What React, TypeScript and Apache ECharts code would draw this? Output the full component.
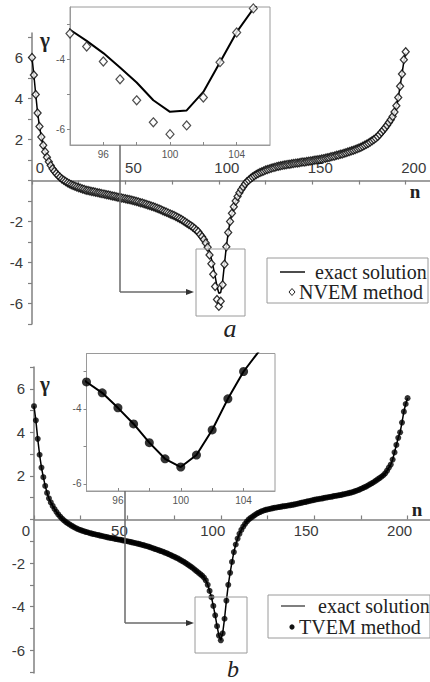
import React, { useEffect, useRef } from 'react';
import * as echarts from 'echarts';

// ---- data (n = 0..200) ----
const exactTop = [
  6.0, 5.15, 4.2, 3.3, 2.64, 2.12, 1.72, 1.4, 1.14, 0.92,
  0.74, 0.58, 0.45, 0.34, 0.25, 0.16, 0.08, 0.01, -0.05, -0.11,
  -0.16, -0.2, -0.24, -0.28, -0.32, -0.35, -0.38, -0.41, -0.44, -0.47,
  -0.49, -0.51, -0.53, -0.55, -0.57, -0.59, -0.61, -0.63, -0.65, -0.67,
  -0.69, -0.71, -0.73, -0.75, -0.77, -0.79, -0.81, -0.83, -0.85, -0.87,
  -0.89, -0.91, -0.93, -0.95, -0.97, -1.0, -1.02, -1.05, -1.08, -1.1,
  -1.13, -1.16, -1.19, -1.22, -1.25, -1.28, -1.32, -1.35, -1.39, -1.43,
  -1.47, -1.51, -1.55, -1.59, -1.63, -1.67, -1.71, -1.75, -1.8, -1.85,
  -1.9, -1.96, -2.02, -2.08, -2.14, -2.2, -2.27, -2.34, -2.42, -2.5,
  -2.6, -2.7, -2.82, -2.97, -3.15, -3.47, -3.82, -4.23, -4.66, -5.17,
  -5.5, -5.46, -4.93, -4.08, -3.22, -2.55, -2.0, -1.6, -1.28, -1.0,
  -0.78, -0.6, -0.44, -0.3, -0.17, -0.06, 0.02, 0.1, 0.17, 0.23,
  0.29, 0.34, 0.39, 0.43, 0.47, 0.51, 0.54, 0.57, 0.6, 0.63,
  0.65, 0.68, 0.7, 0.72, 0.74, 0.76, 0.77, 0.79, 0.8, 0.82,
  0.83, 0.85, 0.86, 0.87, 0.89, 0.9, 0.91, 0.93, 0.94, 0.96,
  0.97, 0.99, 1.0, 1.02, 1.03, 1.05, 1.07, 1.09, 1.11, 1.13,
  1.16, 1.18, 1.2, 1.23, 1.25, 1.28, 1.3, 1.33, 1.36, 1.39,
  1.42, 1.45, 1.48, 1.51, 1.55, 1.59, 1.63, 1.67, 1.72, 1.77,
  1.82, 1.88, 1.94, 2.0, 2.07, 2.15, 2.25, 2.36, 2.47, 2.58,
  2.7, 2.83, 2.97, 3.13, 3.35, 3.65, 4.05, 4.6, 5.2, 5.8,
  6.25,
];

const nvemTop = [
  6.0, 5.15, 4.2, 3.3, 2.64, 2.12, 1.72, 1.4, 1.14, 0.92,
  0.74, 0.58, 0.45, 0.34, 0.25, 0.16, 0.08, 0.01, -0.05, -0.11,
  -0.16, -0.2, -0.24, -0.28, -0.32, -0.35, -0.38, -0.41, -0.44, -0.47,
  -0.49, -0.51, -0.53, -0.55, -0.57, -0.59, -0.61, -0.63, -0.65, -0.67,
  -0.69, -0.71, -0.73, -0.75, -0.77, -0.79, -0.81, -0.83, -0.85, -0.87,
  -0.89, -0.91, -0.93, -0.95, -0.97, -1.0, -1.02, -1.05, -1.08, -1.1,
  -1.13, -1.16, -1.19, -1.22, -1.25, -1.28, -1.32, -1.35, -1.39, -1.43,
  -1.47, -1.51, -1.55, -1.59, -1.63, -1.67, -1.71, -1.75, -1.8, -1.85,
  -1.9, -1.96, -2.02, -2.08, -2.14, -2.2, -2.27, -2.34, -2.42, -2.5,
  -2.63, -2.74, -2.88, -3.05, -3.26, -3.63, -4.06, -4.57, -5.17, -5.8,
  -6.14, -5.89, -5.09, -4.08, -3.23, -2.54, -2.0, -1.6, -1.28, -1.0,
  -0.78, -0.6, -0.44, -0.3, -0.17, -0.06, 0.02, 0.1, 0.17, 0.23,
  0.29, 0.34, 0.39, 0.43, 0.47, 0.51, 0.54, 0.57, 0.6, 0.63,
  0.65, 0.68, 0.7, 0.72, 0.74, 0.76, 0.77, 0.79, 0.8, 0.82,
  0.83, 0.85, 0.86, 0.87, 0.89, 0.9, 0.91, 0.93, 0.94, 0.96,
  0.97, 0.99, 1.0, 1.02, 1.03, 1.05, 1.07, 1.09, 1.11, 1.13,
  1.16, 1.18, 1.2, 1.23, 1.25, 1.28, 1.3, 1.33, 1.36, 1.39,
  1.42, 1.45, 1.48, 1.51, 1.55, 1.59, 1.63, 1.67, 1.72, 1.77,
  1.82, 1.88, 1.94, 2.0, 2.07, 2.15, 2.25, 2.36, 2.47, 2.58,
  2.7, 2.83, 2.97, 3.13, 3.35, 3.65, 4.05, 4.6, 5.2, 5.9,
  6.28,
];

const exactBottom = [
  5.2, 4.55, 3.7, 2.97, 2.38, 1.94, 1.54, 1.22, 0.97, 0.78,
  0.62, 0.48, 0.35, 0.23, 0.13, 0.04, -0.04, -0.11, -0.17, -0.23,
  -0.28, -0.33, -0.38, -0.42, -0.46, -0.49, -0.52, -0.55, -0.58, -0.6,
  -0.63, -0.65, -0.67, -0.69, -0.71, -0.73, -0.75, -0.77, -0.79, -0.81,
  -0.83, -0.85, -0.86, -0.88, -0.9, -0.92, -0.93, -0.95, -0.97, -0.99,
  -1.0, -1.02, -1.04, -1.06, -1.08, -1.1, -1.12, -1.14, -1.17, -1.19,
  -1.22, -1.24, -1.27, -1.3, -1.33, -1.36, -1.39, -1.42, -1.45, -1.48,
  -1.52, -1.55, -1.59, -1.63, -1.67, -1.71, -1.75, -1.79, -1.84, -1.89,
  -1.94, -1.99, -2.05, -2.11, -2.17, -2.23, -2.3, -2.37, -2.44, -2.51,
  -2.58, -2.67, -2.8, -3.0, -3.28, -3.57, -3.97, -4.4, -4.9, -5.33,
  -5.55, -5.23, -4.56, -3.73, -3.0, -2.45, -1.95, -1.5, -1.15, -0.88,
  -0.66, -0.48, -0.33, -0.2, -0.09, 0.0, 0.07, 0.13, 0.19, 0.25,
  0.3, 0.34, 0.38, 0.41, 0.44, 0.46, 0.48, 0.5, 0.52, 0.54,
  0.55, 0.57, 0.58, 0.6, 0.61, 0.62, 0.64, 0.65, 0.67, 0.68,
  0.7, 0.72, 0.74, 0.76, 0.78, 0.8, 0.82, 0.84, 0.86, 0.88,
  0.9, 0.92, 0.93, 0.95, 0.96, 0.98, 1.0, 1.01, 1.03, 1.04,
  1.06, 1.08, 1.09, 1.11, 1.12, 1.14, 1.16, 1.18, 1.2, 1.22,
  1.24, 1.27, 1.3, 1.33, 1.36, 1.4, 1.44, 1.48, 1.52, 1.57,
  1.62, 1.67, 1.72, 1.78, 1.84, 1.9, 1.96, 2.03, 2.12, 2.24,
  2.38, 2.52, 2.75, 3.08, 3.42, 3.75, 4.0, 4.45, 4.95, 5.3,
  5.57,
];

const tvemBottom = exactBottom;

const xMainTicks = [0, 25, 50, 75, 100, 125, 150, 175, 200];
const xMainLabels = [0, 50, 100, 150, 200];
const yMainTicks = [-7, -6, -5, -4, -3, -2, -1, 0, 1, 2, 3, 4, 5, 6, 7];
const yMainLabels = [-6, -4, -2, 2, 4, 6];
const insetXTicks = [96, 98, 100, 102, 104];
const insetXLabels = [96, 100, 104];
const insetYTicks = [-6, -5, -4, -3];
const insetYLabels = [-6, -4];

const SANS = '"Liberation Sans", Arial, sans-serif';
const SERIF = '"Liberation Serif", "Times New Roman", serif';
const AXIS = '#808080';
const FRAME = '#9a9a9a';

const pairs = (arr: number[]) => arr.map((v, i) => [i, v]);

function mainX(gridIndex: number, max: number, top: boolean, offset: number) {
  return {
    type: 'value', gridIndex, min: 0, max, position: 'bottom', offset,
    axisLine: { show: true, onZero: false, lineStyle: { color: AXIS, width: 1.5 } },
    axisTick: { show: true, customValues: xMainTicks, inside: !top, length: 4, lineStyle: { color: AXIS, width: 1.2 } },
    axisLabel: {
      show: true, customValues: xMainLabels, inside: top, margin: top ? 6 : 4,
      padding: top ? [0, 0, 0, 16] : [0, 16, 0, 0],
      fontSize: 15, fontFamily: SANS, color: '#3a3a3a',
    },
    splitLine: { show: false },
  };
}
function mainY(gridIndex: number, min: number, max: number) {
  return {
    type: 'value', gridIndex, min, max,
    axisLine: { show: true, onZero: false, lineStyle: { color: AXIS, width: 1.5 } },
    axisTick: { show: true, customValues: yMainTicks, length: 4, lineStyle: { color: AXIS, width: 1.2 } },
    axisLabel: { customValues: yMainLabels, margin: 9, fontSize: 15, fontFamily: SANS, color: '#3a3a3a' },
    splitLine: { show: false },
  };
}
function insetX(gridIndex: number) {
  return {
    type: 'value', gridIndex, min: 94, max: 106,
    axisLine: { show: true, onZero: false, lineStyle: { color: FRAME, width: 1 } },
    axisTick: { show: true, customValues: insetXTicks, inside: true, length: 3, lineStyle: { color: '#888' } },
    axisLabel: { customValues: insetXLabels, margin: 4, fontSize: 10, fontFamily: SANS, color: '#555' },
    splitLine: { show: false },
  };
}
function insetY(gridIndex: number, min: number, max: number) {
  return {
    type: 'value', gridIndex, min, max,
    axisLine: { show: true, onZero: false, lineStyle: { color: FRAME, width: 1 } },
    axisTick: { show: true, customValues: insetYTicks, length: 3, lineStyle: { color: '#888' } },
    axisLabel: { customValues: insetYLabels, margin: 5, fontSize: 10, fontFamily: SANS, color: '#555' },
    splitLine: { show: false },
  };
}

function txt(x: number, y: number, text: string, font: string, align = 'left', fill = '#222') {
  return {
    type: 'text', x, y, z: 100,
    style: { text, font, fill, align, verticalAlign: 'middle', textAlign: align, textVerticalAlign: 'middle' },
  };
}
function ln(x1: number, y1: number, x2: number, y2: number, stroke = '#6a6a6a', lineWidth = 1.5) {
  return { type: 'line', z: 100, shape: { x1, y1, x2, y2 }, style: { stroke, lineWidth } };
}
function box(x: number, y: number, width: number, height: number) {
  return { type: 'rect', z: 99, shape: { x, y, width, height }, style: { fill: 'none', stroke: FRAME, lineWidth: 1 } };
}
function arrow(x: number, y: number) {
  return { type: 'polygon', z: 101, shape: { points: [[x - 8, y - 3], [x, y], [x - 8, y + 3]] }, style: { fill: '#333' } };
}

export default function App() {
  const ref = useRef<HTMLDivElement>(null);
  useEffect(() => {
    if (!ref.current) return;
    const chart = echarts.init(ref.current, undefined, { renderer: 'svg' });
    const option: any = {
      animation: false,
      backgroundColor: '#fff',
      grid: [
        { left: 32, top: 33, width: 398, height: 291, outerBoundsMode: 'none' },
        { left: 70, top: 7, width: 200, height: 138, show: true, borderColor: FRAME, borderWidth: 1, outerBoundsMode: 'none' },
        { left: 34, top: 367, width: 396, height: 306, outerBoundsMode: 'none' },
        { left: 86.5, top: 353.5, width: 188.5, height: 137.5, show: true, borderColor: FRAME, borderWidth: 1, outerBoundsMode: 'none' },
      ],
      xAxis: [mainX(0, 213, true, -143.45), insetX(1), mainX(2, 212, false, -153.54), insetX(3)],
      yAxis: [mainY(0, -7, 7.2), insetY(1, -6.45, -2.5), mainY(2, -7.05, 7), insetY(3, -6.19, -2.52)],
      series: [
        { type: 'line', xAxisIndex: 0, yAxisIndex: 0, data: pairs(exactTop), showSymbol: false, lineStyle: { color: '#000', width: 1.5 }, z: 2 },
        { type: 'scatter', xAxisIndex: 0, yAxisIndex: 0, data: pairs(nvemTop), symbol: 'diamond', symbolSize: [7, 8], itemStyle: { color: '#fff', borderColor: '#000', borderWidth: 1.3 }, z: 3 },
        { type: 'line', xAxisIndex: 1, yAxisIndex: 1, data: pairs(exactTop), showSymbol: false, clip: true, lineStyle: { color: '#000', width: 2 }, z: 2 },
        { type: 'scatter', xAxisIndex: 1, yAxisIndex: 1, data: pairs(nvemTop), clip: true, symbol: 'diamond', symbolSize: [8, 9], itemStyle: { color: '#fff', borderColor: '#222', borderWidth: 1.2 }, z: 3 },
        { type: 'line', xAxisIndex: 2, yAxisIndex: 2, data: pairs(exactBottom), showSymbol: false, lineStyle: { color: '#000', width: 1.5 }, z: 2 },
        { type: 'scatter', xAxisIndex: 2, yAxisIndex: 2, data: pairs(tvemBottom), symbol: 'circle', symbolSize: 6, itemStyle: { color: '#000' }, z: 3 },
        { type: 'line', xAxisIndex: 3, yAxisIndex: 3, data: pairs(exactBottom), showSymbol: false, clip: true, lineStyle: { color: '#000', width: 2 }, z: 2 },
        { type: 'scatter', xAxisIndex: 3, yAxisIndex: 3, data: pairs(tvemBottom), clip: true, symbol: 'circle', symbolSize: 9, itemStyle: { color: '#000' }, z: 3 },
      ],
      graphic: [
        txt(45, 40, 'γ', `bold 21px ${SERIF}`, 'center'),
        txt(45, 384, 'γ', `bold 21px ${SERIF}`, 'center'),
        txt(415, 191, 'n', `bold 19px ${SERIF}`, 'center'),
        txt(417, 509, 'n', `bold 19px ${SERIF}`, 'center'),
        // top connector
        ln(120, 145, 120, 292), ln(120, 292, 187, 292), arrow(194, 292),
        box(196, 249, 49, 67),
        // bottom connector
        ln(125, 491, 125, 623), ln(125, 623, 187, 623), arrow(194, 623),
        box(195, 597, 52, 56),
        // legend top
        box(267, 258, 161, 45),
        ln(280, 272, 305, 272, '#111', 1.5),
        txt(315, 272, 'exact solution', `20px ${SERIF}`),
        { type: 'polygon', z: 101, shape: { points: [[292, 288.5], [295, 292], [292, 295.5], [289, 292]] }, style: { fill: '#fff', stroke: '#222', lineWidth: 1 } },
        txt(299, 292, 'NVEM method', `20px ${SERIF}`),
        txt(230, 328, 'a', `italic 26px ${SERIF}`, 'center'),
        // legend bottom
        box(268, 595, 162, 43),
        ln(281, 606, 305, 606, '#555', 1.5),
        txt(318, 606, 'exact solution', `20px ${SERIF}`),
        { type: 'circle', z: 101, shape: { cx: 292, cy: 627, r: 2.6 }, style: { fill: '#111' } },
        txt(299, 627, 'TVEM method', `20px ${SERIF}`),
        txt(233, 669, 'b', `italic 24px ${SERIF}`, 'center'),
      ],
    };
    chart.setOption(option);
    return () => chart.dispose();
  }, []);
  return <div ref={ref} style={{ position: 'fixed', left: 0, top: 0, width: 430, height: 682 }} />;
}
